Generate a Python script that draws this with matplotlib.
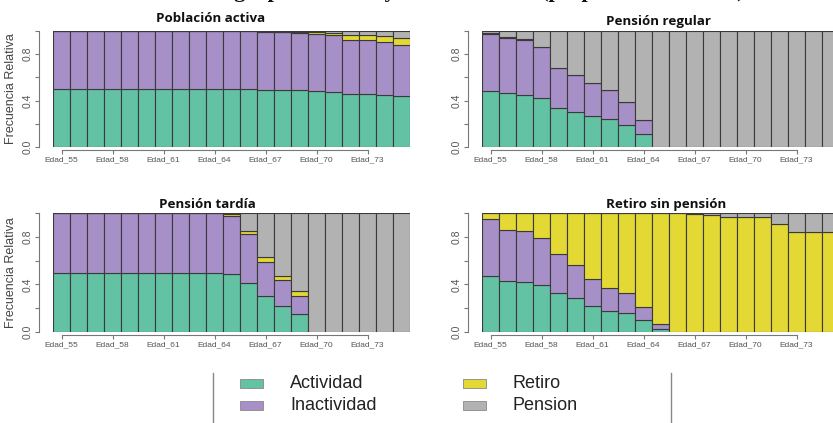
import matplotlib
matplotlib.use("Agg")
import matplotlib.pyplot as plt
import numpy as np
from matplotlib.patches import Rectangle
from matplotlib.lines import Line2D

plt.rcParams["font.family"] = ["Liberation Sans", "DejaVu Sans"]

# ── datos ──────────────────────────────────────────────
edades = [f"Edad_{e}" for e in range(55, 76)]
estados = ["Actividad", "Inactividad", "Retiro", "Pension"]
colores = ["#64C2A4", "#A78FC8", "#E3D834", "#B2B2B2"]

# Población activa
pa_act = [0.5] * 12 + [0.495, 0.49, 0.488, 0.483, 0.478, 0.46, 0.455, 0.447, 0.438]
pa_ina = [0.5] * 12 + [0.5, 0.5, 0.497, 0.494, 0.484, 0.465, 0.465, 0.458, 0.442]
pa_ret = [0.0] * 12 + [0.002, 0.005, 0.007, 0.013, 0.023, 0.04, 0.042, 0.052, 0.06]
pa_pen = [0.0] * 12 + [0.003, 0.005, 0.008, 0.01, 0.015, 0.035, 0.038, 0.043, 0.06]

# Pensión regular
pr_act = [0.483, 0.469, 0.451, 0.426, 0.334, 0.30, 0.269, 0.24, 0.191, 0.111] + [0.0] * 11
pr_ina = [0.494, 0.471, 0.469, 0.437, 0.349, 0.317, 0.28, 0.251, 0.20, 0.123] + [0.0] * 11
pr_ret = [0.005, 0.005, 0.008, 0.0, 0.0, 0.0, 0.0, 0.0, 0.0, 0.0] + [0.0] * 11
pr_pen = [0.018, 0.055, 0.072, 0.137, 0.317, 0.383, 0.451, 0.509, 0.609, 0.766] + [1.0] * 11

# Pensión tardía
pt_act = [0.5] * 10 + [0.485, 0.408, 0.30, 0.217, 0.15] + [0.0] * 6
pt_ina = [0.5] * 10 + [0.492, 0.414, 0.29, 0.22, 0.15] + [0.0] * 6
pt_ret = [0.0] * 10 + [0.013, 0.028, 0.038, 0.033, 0.043] + [0.0] * 6
pt_pen = [0.0] * 10 + [0.01, 0.15, 0.372, 0.53, 0.657] + [1.0] * 6

# Retiro sin pensión
rs_act = [0.473, 0.428, 0.423, 0.394, 0.33, 0.282, 0.22, 0.177, 0.16, 0.104, 0.028] + [0.0] * 10
rs_ina = [0.476, 0.431, 0.428, 0.395, 0.326, 0.281, 0.222, 0.189, 0.164, 0.102, 0.042] + [0.0] * 10
rs_ret = [0.051, 0.141, 0.149, 0.211, 0.344, 0.437, 0.558, 0.634, 0.676, 0.794, 0.93,
          0.997, 0.988, 0.984, 0.968, 0.968, 0.968, 0.911, 0.837, 0.837, 0.837]
rs_pen = [0.0] * 11 + [0.003, 0.012, 0.016, 0.032, 0.032, 0.032, 0.089, 0.163, 0.163, 0.163]

paneles = [
    ("Población activa", [pa_act, pa_ina, pa_ret, pa_pen]),
    ("Pensión regular", [pr_act, pr_ina, pr_ret, pr_pen]),
    ("Pensión tardía", [pt_act, pt_ina, pt_ret, pt_pen]),
    ("Retiro sin pensión", [rs_act, rs_ina, rs_ret, rs_pen]),
]

W, H = 833, 423
fig = plt.figure(figsize=(W / 100, H / 100), dpi=100, facecolor="white")

# posición en píxeles: (izq, arriba(1.0), abajo(0.0)), centro del título
cajas = [
    (53, 31, 147, (211, 18)),
    (482, 31, 147, (658, 21)),
    (53, 213, 332, (207, 205)),
    (482, 213, 332, (666, 204)),
]
ancho = 357

for k, ((titulo, series), (x0, ytop, ybot, tpos)) in enumerate(zip(paneles, cajas)):
    ax = fig.add_axes([x0 / W, 1 - ybot / H, ancho / W, (ybot - ytop) / H])
    x = np.arange(len(edades))
    base = np.zeros(len(edades))
    for vals, col in zip(series, colores):
        vals = np.array(vals)
        ax.bar(x, vals, width=1.0, bottom=base, align="edge", color=col,
               edgecolor="#3a3a3a", linewidth=0.8)
        base += vals
    ax.set_xlim(0, len(edades))
    ax.set_ylim(0, 1)

    for s in ("top", "right"):
        ax.spines[s].set_visible(False)
    ax.spines["left"].set_position(("outward", 10))
    ax.spines["left"].set_bounds(0, 1)
    ax.spines["bottom"].set_position(("outward", 2))
    ax.spines["bottom"].set_bounds(0.5, 18.5)
    for s in ("left", "bottom"):
        ax.spines[s].set_color("#777777")
        ax.spines[s].set_linewidth(0.8)

    pos = x[::3] + 0.5
    ax.set_xticks(pos)
    ax.set_xticklabels(edades[::3], fontsize=6.0, color="#555555")
    ax.set_yticks([0, 0.2, 0.4, 0.6, 0.8, 1.0])
    ax.set_yticklabels(["0.0", "", "0.4", "", "0.8", ""], rotation=90,
                       va="center", fontsize=7.5, color="#555555")
    ax.tick_params(axis="both", length=3, width=0.8, color="#777777", pad=2)

    fig.text(tpos[0] / W, 1 - tpos[1] / H, titulo, ha="center", va="center",
             fontsize=9.6, fontweight="bold", family=["Open Sans", "DejaVu Sans"],
             color="#111111")

    if k % 2 == 0:
        fig.text(11 / W, 1 - ((ytop + ybot) / 2) / H, "Frecuencia Relativa",
                 rotation=90, ha="center", va="center", fontsize=9, color="#444444")

# título general (cortado arriba, sólo se ven los trazos inferiores)
fig.text(745 / W, 1 + 3.5 / H, "Los grupos de edad y estado laboral (proporción del total)",
         ha="right", va="baseline", fontsize=16, fontweight="bold",
         family=["Liberation Serif", "DejaVu Serif"], color="#111111")

# leyenda
items = [(0, 240, 383), (1, 240, 405), (2, 463, 383), (3, 463, 405)]
for i, lx, ly in items:
    fig.patches.append(Rectangle((lx / W, 1 - (ly + 4.5) / H), 23 / W, 9 / H,
                                 transform=fig.transFigure, facecolor=colores[i],
                                 edgecolor="#888888", linewidth=0.6))
    fig.text((lx + 50) / W, 1 - ly / H, estados[i], ha="left", va="center",
             fontsize=13, color="#222222")
for vx in (213, 671):
    fig.add_artist(Line2D([vx / W, vx / W], [1 - 373 / H, 0], transform=fig.transFigure,
                          color="#888888", linewidth=1.0))

fig.savefig("out.png", dpi=100, facecolor="white")
